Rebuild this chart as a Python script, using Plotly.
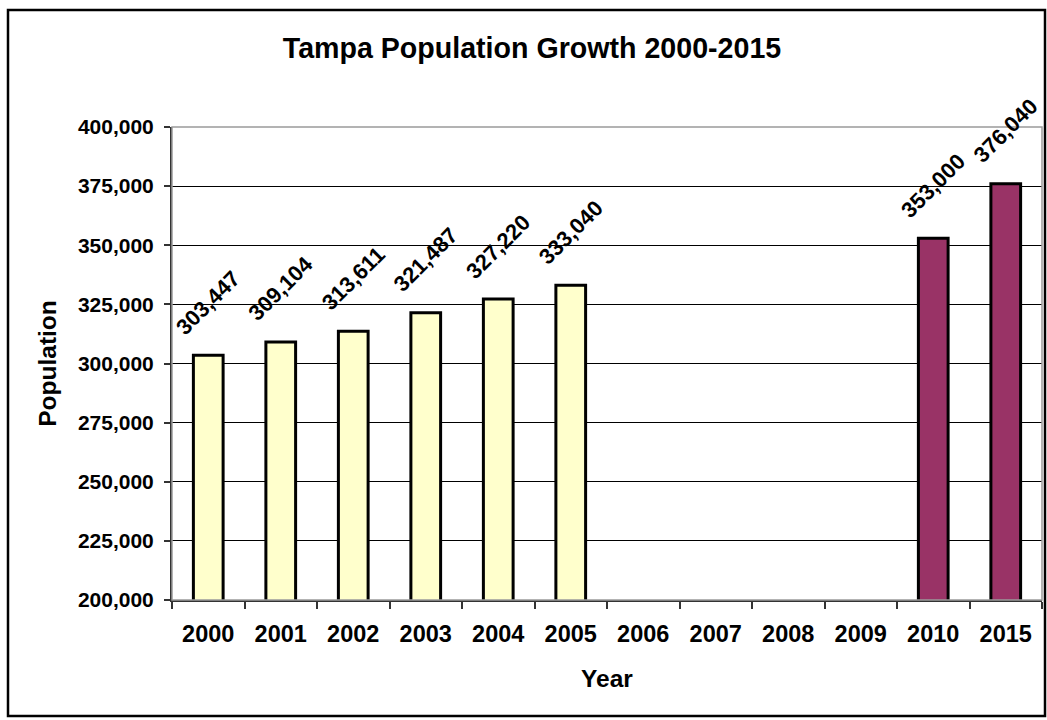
import plotly.graph_objects as go

years = ["2000", "2001", "2002", "2003", "2004", "2005", "2006", "2007", "2008", "2009", "2010", "2015"]
population = [303447, 309104, 313611, 321487, 327220, 333040, None, None, None, None, 353000, 376040]
bar_colors = ["#FFFFCC"] * 10 + ["#993366"] * 2
y_ticks = [200000, 225000, 250000, 275000, 300000, 325000, 350000, 375000, 400000]

FONT = "Liberation Sans, Arial, sans-serif"

fig = go.Figure()
fig.add_trace(go.Bar(
    x=years, y=population,
    marker=dict(color=bar_colors, line=dict(color="black", width=3)),
    hoverinfo="x+y",
))

annotations = []
for i, v in enumerate(population):
    if v is None:
        continue
    annotations.append(dict(
        x=i, y=v, xref="x", yref="y", text=f"{v:,}", showarrow=False,
        textangle=-45, xanchor="center", yanchor="middle", yshift=53,
        font=dict(family=FONT, size=22, color="black", weight="bold"),
    ))

fig.update_layout(
    width=1047, height=720,
    margin=dict(l=172, r=5, t=127, b=120),
    paper_bgcolor="white", plot_bgcolor="white",
    bargap=0.59,
    showlegend=False,
    title=dict(
        text="Tampa Population Growth 2000-2015",
        x=532 / 1047, xref="container", xanchor="center",
        y=1 - 48 / 720, yref="container", yanchor="middle",
        font=dict(family=FONT, size=28.6, color="black", weight="bold"),
    ),
    annotations=annotations,
    shapes=[
        dict(type="rect", xref="paper", yref="paper", x0=0, x1=1, y0=0, y1=1,
             line=dict(color="#9a9a9a", width=1.5), layer="above"),
        dict(type="rect", xref="paper", yref="paper",
             x0=(8 - 172) / 870, x1=(1045 - 172) / 870,
             y0=(600 - 716) / 473, y1=(600 - 10) / 473,
             line=dict(color="black", width=2.5), layer="above"),
    ],
)

fig.update_xaxes(
    type="category", categoryorder="array", categoryarray=years,
    range=[-0.5, len(years) - 0.5], autorange=False,
    showline=True, linecolor="#333333", linewidth=2,
    ticks="outside", tickson="boundaries", ticklen=7, tickcolor="#333333", tickwidth=1.5,
    ticklabelstandoff=12, tickangle=0,
    tickfont=dict(family=FONT, size=23.5, color="black", weight="bold"),
    showgrid=False,
    title=dict(text="Year", standoff=24,
               font=dict(family=FONT, size=24.5, color="black", weight="bold")),
)

fig.update_yaxes(
    range=[200000, 400000], autorange=False, tickvals=y_ticks, tickformat=",d",
    showline=True, linecolor="#333333", linewidth=2,
    ticks="outside", ticklen=6, tickcolor="#333333", tickwidth=1.5,
    ticklabelstandoff=6,
    tickfont=dict(family=FONT, size=21, color="black", weight="bold"),
    showgrid=True, gridcolor="black", gridwidth=1,
    zeroline=False,
    title=dict(text="Population", standoff=14,
               font=dict(family=FONT, size=24.5, color="black", weight="bold")),
)

fig.write_html("out.html")
